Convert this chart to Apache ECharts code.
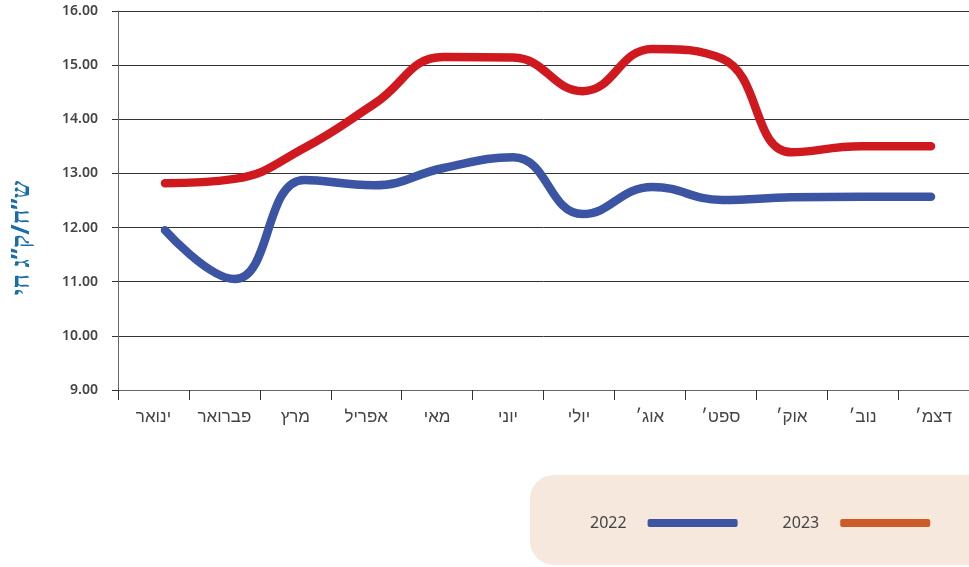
<!DOCTYPE html>
<html><head><meta charset="utf-8">
<script src="https://cdn.jsdelivr.net/npm/echarts@6/dist/echarts.min.js"></script>
<style>html,body{margin:0;padding:0;background:#fff}#c{width:969px;height:567px}</style>
</head><body><div id="c"></div>
<script>
const categories = ['ינואר','פברואר','מרץ','אפריל','מאי','יוני','יולי','אוג׳','ספט׳','אוק׳','נוב׳','דצמ׳'];
const values2022 = [11.95, 11.05, 12.88, 12.78, 13.1, 13.3, 12.25, 12.75, 12.51, 12.56, 12.57, 12.57];
const values2023 = [12.82, 12.9, 13.47, 14.28, 15.15, 15.14, 14.52, 15.3, 15.12, 13.39, 13.5, 13.5];
const seriesNames = ['2022', '2023'];
const yTicks = {min: 9, max: 16, interval: 1};
const yTitle = 'ש”ח/ק”ג חי';

const BLUE = '#3b54a3', RED = '#d0191f', ORANGE = '#cc5b28';
const chart = echarts.init(document.getElementById('c'), null, {renderer: 'canvas'});
chart.setOption({
  animation: false,
  grid: [
    {left: 118, top: 11, width: 859, bottom: 177, containLabel: false},
    {left: 165, top: 11, right: 38, bottom: 177, containLabel: false}
  ],
  xAxis: [
    {type: 'category', gridIndex: 0, data: categories, boundaryGap: true,
     axisLine: {lineStyle: {color: '#666', width: 1}},
     axisTick: {show: true, length: 10, lineStyle: {color: '#333'}},
     axisLabel: {margin: 19, color: '#444', fontSize: 17, fontFamily: 'Liberation Sans'}},
    {type: 'category', gridIndex: 1, data: categories, boundaryGap: false, show: false}
  ],
  yAxis: [
    {type: 'value', gridIndex: 0, min: yTicks.min, max: yTicks.max, interval: yTicks.interval,
     axisLine: {show: true, lineStyle: {color: '#666', width: 1}},
     axisTick: {show: true, length: 6, lineStyle: {color: '#333'}},
     splitLine: {show: true, lineStyle: {color: '#333', width: 1}},
     axisLabel: {margin: 20, color: '#444', fontSize: 14, fontWeight: 600, fontFamily: 'Noto Sans',
       formatter: v => v.toFixed(2)}},
    {type: 'value', gridIndex: 1, min: yTicks.min, max: yTicks.max, show: false, splitLine: {show: false}}
  ],
  legend: {
    data: [
      {name: seriesNames[0], itemStyle: {color: BLUE}},
      {name: seriesNames[1], itemStyle: {color: ORANGE}}
    ],
    icon: 'roundRect', itemWidth: 90, itemHeight: 8, itemGap: 45, align: 'right',
    left: 585, top: 510,
    textStyle: {color: '#444', fontSize: 16, fontFamily: 'Noto Sans', padding: [0, 16, 0, 0]}
  },
  graphic: [
    {type: 'rect', left: 530, top: 475, z: -10, silent: true,
     shape: {width: 470, height: 90, r: 24}, style: {fill: '#f7e8de'}},
    {type: 'text', x: 22, y: 238, rotation: Math.PI / 2, z: 10,
     style: {text: yTitle, fill: '#1a6ea8', font: 'bold 25px "Noto Sans"', align: 'center', verticalAlign: 'middle'}}
  ],
  series: [
    {name: seriesNames[0], type: 'line', xAxisIndex: 1, yAxisIndex: 1, data: values2022, smooth: 0.45,
     showSymbol: false, symbol: 'none', itemStyle: {color: BLUE},
     lineStyle: {color: BLUE, width: 8.5, cap: 'round'}},
    {name: seriesNames[1], type: 'line', xAxisIndex: 1, yAxisIndex: 1, data: values2023, smooth: 0.45,
     showSymbol: false, symbol: 'none', itemStyle: {color: ORANGE},
     lineStyle: {color: RED, width: 8.5, cap: 'round'}}
  ]
});
</script></body></html>
